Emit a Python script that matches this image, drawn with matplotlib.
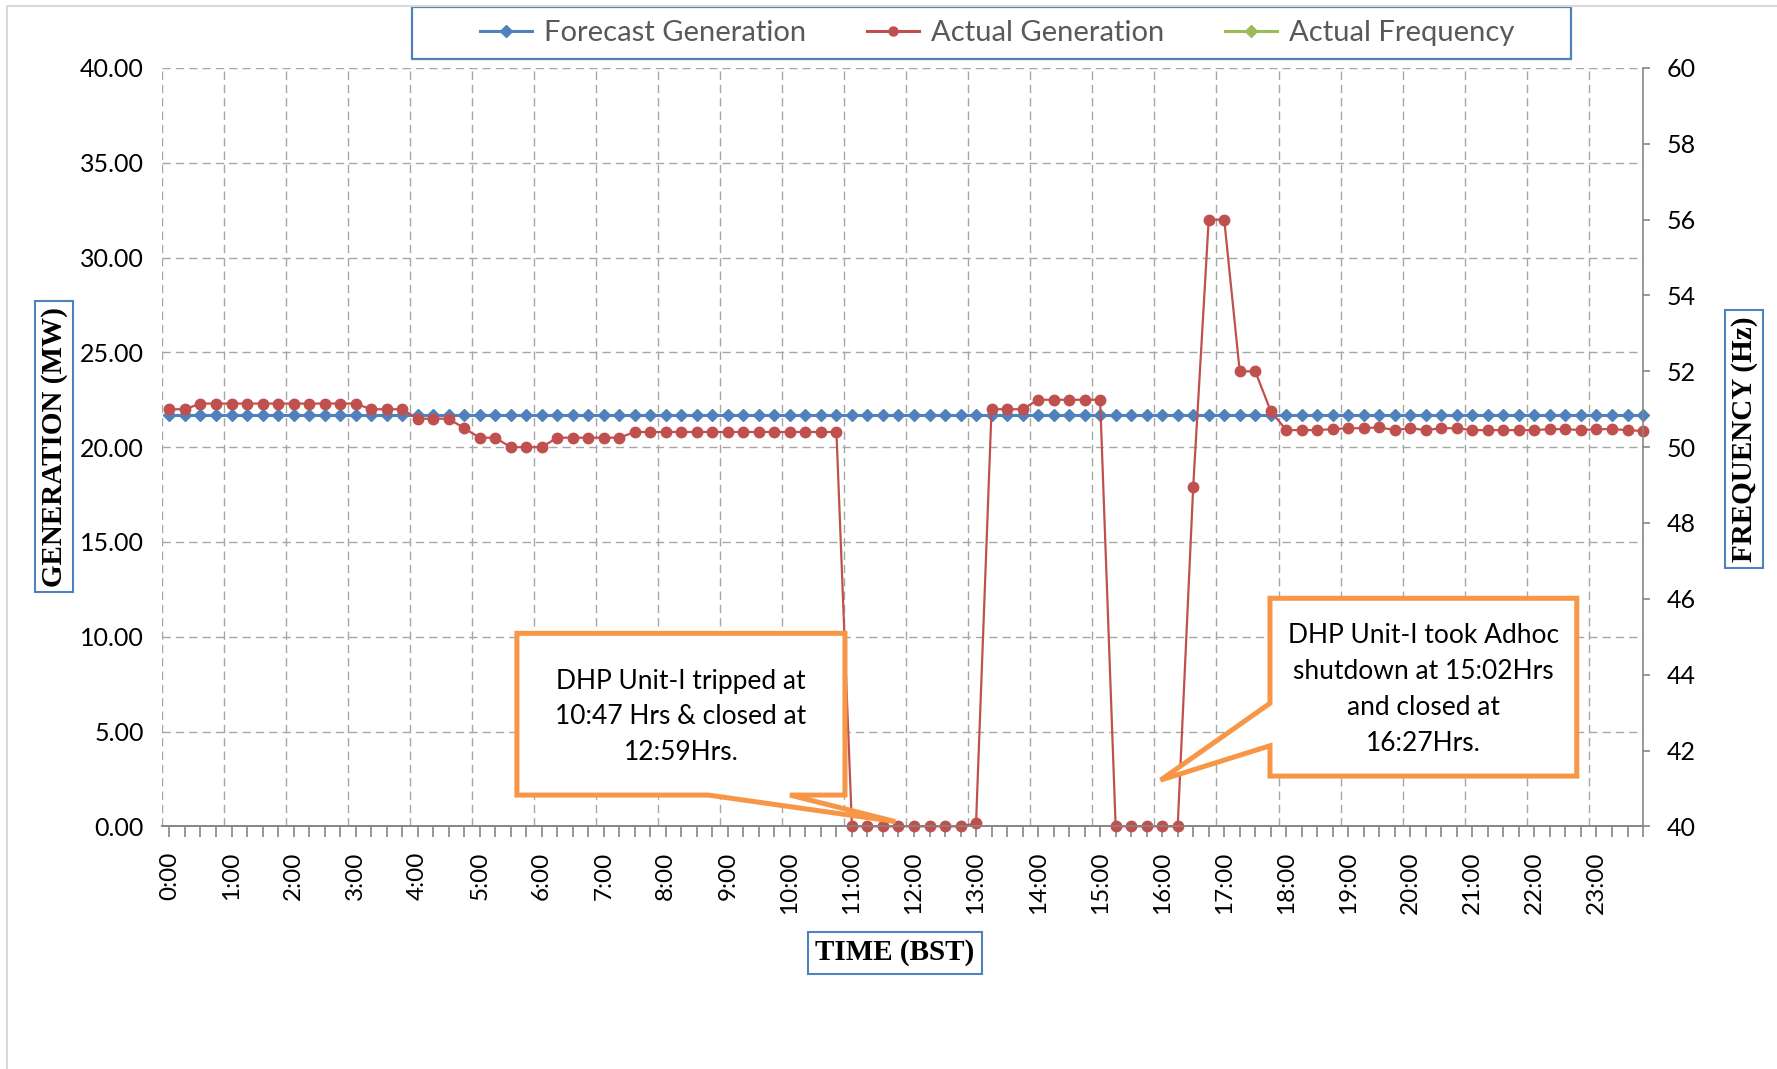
import matplotlib
matplotlib.use('Agg')
import matplotlib.pyplot as plt
from matplotlib.lines import Line2D
from matplotlib.patches import Polygon, Rectangle
from matplotlib.ticker import FixedLocator, FuncFormatter

plt.rcParams['font.family'] = ['Lato', 'DejaVu Sans']

# 15-minute slots for the day
time_labels = [f"{h}:{m:02d}" for h in range(24) for m in (0, 15, 30, 45)]

forecast_gen = [
    21.7, 21.7, 21.7, 21.7, 21.7, 21.7, 21.7, 21.7, 21.7, 21.7, 21.7, 21.7, 21.7, 21.7, 21.7, 21.7,
    21.7, 21.7, 21.7, 21.7, 21.7, 21.7, 21.7, 21.7, 21.7, 21.7, 21.7, 21.7, 21.7, 21.7, 21.7, 21.7,
    21.7, 21.7, 21.7, 21.7, 21.7, 21.7, 21.7, 21.7, 21.7, 21.7, 21.7, 21.7, 21.7, 21.7, 21.7, 21.7,
    21.7, 21.7, 21.7, 21.7, 21.7, 21.7, 21.7, 21.7, 21.7, 21.7, 21.7, 21.7, 21.7, 21.7, 21.7, 21.7,
    21.7, 21.7, 21.7, 21.7, 21.7, 21.7, 21.7, 21.7, 21.7, 21.7, 21.7, 21.7, 21.7, 21.7, 21.7, 21.7,
    21.7, 21.7, 21.7, 21.7, 21.7, 21.7, 21.7, 21.7, 21.7, 21.7, 21.7, 21.7, 21.7, 21.7, 21.7, 21.7,
]

actual_gen = [
    22.0, 22.0, 22.3, 22.3, 22.3, 22.3, 22.3, 22.3, 22.3, 22.3, 22.3, 22.3, 22.3, 22.0, 22.0, 22.0,
    21.5, 21.5, 21.5, 21.0, 20.5, 20.5, 20.0, 20.0, 20.0, 20.5, 20.5, 20.5, 20.5, 20.5, 20.8, 20.8,
    20.8, 20.8, 20.8, 20.8, 20.8, 20.8, 20.8, 20.8, 20.8, 20.8, 20.8, 20.8, 0.0, 0.0, 0.0, 0.0,
    0.0, 0.0, 0.0, 0.0, 0.15, 22.0, 22.0, 22.0, 22.5, 22.5, 22.5, 22.5, 22.5, 0.0, 0.0, 0.0,
    0.0, 0.0, 17.9, 32.0, 32.0, 24.0, 24.0, 21.9, 20.9, 20.9, 20.9, 20.95, 21.0, 21.0, 21.05, 20.9,
    21.0, 20.9, 21.0, 21.0, 20.9, 20.9, 20.9, 20.9, 20.9, 20.95, 20.95, 20.9, 20.95, 20.95, 20.9, 20.85,
]

# no frequency values are visible inside the 40-60 Hz window
actual_freq = []

blue = '#4F81BD'
red = '#C0504D'
green = '#9BBB59'
orange = '#F79646'
grid_col = '#A6A6A6'
axis_col = '#868686'

fig = plt.figure(figsize=(17.77, 10.69), dpi=100)
ax = fig.add_axes([0.0910, 0.2270, 0.8336, 0.7094])
ax2 = ax.twinx()

x = list(range(len(time_labels)))
ax.plot(x, forecast_gen, color=blue, lw=2.2, marker='D', ms=5.8, clip_on=False, zorder=3)
ax.plot(x, actual_gen, color=red, lw=1.6, marker='o', ms=7.5, clip_on=False, zorder=4)
ax2.plot(x[:len(actual_freq)], actual_freq, color=green, lw=2, marker='D', ms=5.8)

ax.set_xlim(-0.5, 95)
ax.set_ylim(0, 40)
ax2.set_ylim(40, 60)

# x axis: tick at every slot, label every hour, grid between hours
ax.xaxis.set_major_locator(FixedLocator(x))
ax.xaxis.set_major_formatter(FuncFormatter(
    lambda v, p: time_labels[int(round(v))] if int(round(v)) % 4 == 0 and 0 <= int(round(v)) < 96 else ''))
ax.xaxis.set_minor_locator(FixedLocator([i - 0.5 for i in range(0, 96, 4)]))
ax.tick_params(axis='x', which='major', length=8, width=1.2, color=axis_col,
               labelsize=17.5, rotation=90, pad=10)
ax.tick_params(axis='x', which='minor', length=0)
ax.set_yticks([0, 5, 10, 15, 20, 25, 30, 35, 40])
ax.set_yticklabels([f"{v:.2f}" for v in [0, 5, 10, 15, 20, 25, 30, 35, 40]])
ax.tick_params(axis='y', length=0, labelsize=18, pad=13)

ax2.set_yticks(range(40, 61, 2))
ax2.tick_params(axis='y', length=5, width=1.2, color=axis_col, labelsize=18, pad=12)

ax.grid(True, which='major', axis='y', color=grid_col, lw=1.0, ls=(0, (6, 3.6)))
ax.grid(True, which='minor', axis='x', color=grid_col, lw=1.0, ls=(0, (6, 3.6)))
ax.set_axisbelow(True)

for a in (ax, ax2):
    a.spines['top'].set_visible(False)
    a.spines['left'].set_visible(False)
    a.spines['bottom'].set_color(axis_col)
    a.spines['bottom'].set_linewidth(1.2)
    a.spines['right'].set_color(axis_col)
    a.spines['right'].set_linewidth(1.2)
ax.spines['right'].set_visible(False)

# callout 1
x0, x1, y0, y1 = 22.4, 43.55, 1.65, 10.18
call1 = Polygon([(x0, y1), (x1, y1), (x1, y0), (40.0, y0), (46.8, 0.25), (34.74, y0), (x0, y0)],
                closed=True, fc='white', ec=orange, lw=3.6, joinstyle='miter',
                clip_on=False, zorder=6)
ax.add_patch(call1)
ax.text((x0 + x1) / 2, 5.78, 'DHP Unit-I tripped at\n10:47 Hrs & closed at\n12:59Hrs.',
        ha='center', va='center', fontsize=19, linespacing=1.53, zorder=7)

# callout 2
x0, x1, y0, y1 = 70.95, 90.73, 2.65, 12.03
call2 = Polygon([(x0, y1), (x1, y1), (x1, y0), (x0, y0), (x0, 4.25), (63.9, 2.44), (x0, 6.49)],
                closed=True, fc='white', ec=orange, lw=3.6, joinstyle='miter',
                clip_on=False, zorder=6)
ax.add_patch(call2)
ax.text((x0 + x1) / 2, 7.24, 'DHP Unit-I took Adhoc\nshutdown at 15:02Hrs\nand closed at\n16:27Hrs.',
        ha='center', va='center', fontsize=19, linespacing=1.55, zorder=7)

# axis titles in boxes
title_box = dict(boxstyle='square,pad=0.2', fc='white', ec=blue, lw=1.5)
serif = ['Liberation Serif', 'DejaVu Serif']
fig.text(54 / 1777, 1 - 446.7 / 1069, 'GENERATION (MW)', rotation=90, ha='center', va='center',
         fontsize=21, fontweight='bold', family=serif, bbox=title_box)
fig.text(1744 / 1777, 1 - 439 / 1069, 'FREQUENCY (Hz)', rotation=90, ha='center', va='center',
         fontsize=21, fontweight='bold', family=serif, bbox=title_box)
fig.text(895 / 1777, 1 - 953 / 1069, 'TIME (BST)', ha='center', va='center',
         fontsize=21, fontweight='bold', family=serif,
         bbox=dict(boxstyle='square,pad=0.25', fc='white', ec=blue, lw=1.5))

# legend
handles = [
    Line2D([], [], color=blue, lw=2.2, marker='D', ms=5.8),
    Line2D([], [], color=red, lw=2.2, marker='o', ms=6.5),
    Line2D([], [], color=green, lw=2.2, marker='D', ms=5.8),
]
fig.patches.append(Rectangle((412 / 1777, 1 - 59 / 1069), 1159 / 1777, 52 / 1069,
                             transform=fig.transFigure, fc='white', ec=blue, lw=1.6, zorder=0))
leg = fig.legend(handles, ['Forecast Generation', 'Actual Generation', 'Actual Frequency'],
                 loc='center', bbox_to_anchor=(997 / 1777, 1 - 32.9 / 1069), ncol=3,
                 frameon=False, fontsize=21, handlelength=1.78, handletextpad=0.4,
                 columnspacing=2.1, borderpad=0.2)
for t in leg.get_texts():
    t.set_color('#595959')

# light chart border
fig.patches.append(Rectangle((6.5 / 1777, -0.1), 1.2, 1 - 5.7 / 1069 + 0.1,
                             transform=fig.transFigure, fill=False, ec='#D9D9D9', lw=1.5, zorder=0))

fig.savefig('out.png', dpi=100, facecolor='white')
